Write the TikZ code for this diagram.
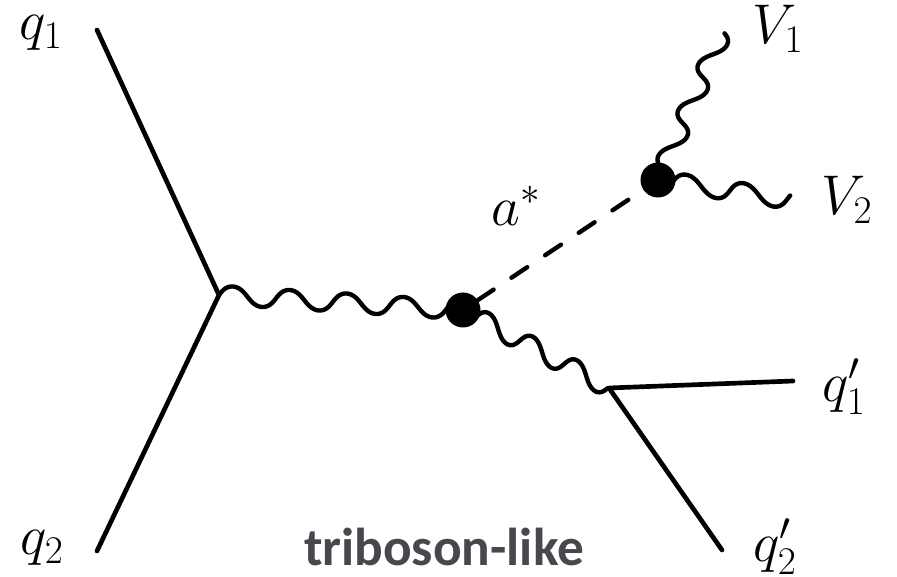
\RequirePackage{fix-cm}
\documentclass[tikz,border=0pt]{standalone}
\usepackage{fontspec}
\setsansfont{Carlito}
\usetikzlibrary{decorations}
\def\bwP{40}\def\bwS{10}\def\bwL{1.9}\def\bwA{7}
\pgfdeclaredecoration{bwave}{s}{
 \state{s}[switch if less than=1pt to final,width=1pt]{
  \pgfmathsetmacro\bwT{(\pgfdecoratedcompleteddistance-\bwS)/\bwP*360}
  \pgfmathsetmacro\bwY{\bwA*sin(\bwT)}
  \pgfmathsetmacro\bwX{-0.015*\bwP*sin(2*\bwT)-\bwL*sin(\bwT)}
  \pgfpathlineto{\pgfpoint{\bwX pt}{\bwY pt}}
 }
 \state{final}{}
}
\tikzset{
 fermion/.style={line width=3.5pt,line cap=round,line join=round},
 boson/.style args={#1/#2/#3}{line width=3.3pt,line cap=round,line join=round,decorate,decoration=bwave,
   /utils/exec={\def\bwP{#1}\def\bwS{#2}\def\bwL{#3}}},
 scalar/.style={line width=3.3pt,line cap=round,dash pattern=on 14.25pt off 16.1pt},
 blob/.style={circle,fill=black,minimum size=26.25pt,inner sep=0pt},
 lab/.style={inner sep=0pt,font=\fontsize{42}{42}\selectfont},
}
\begin{document}
\begin{tikzpicture}[x=0.75pt,y=-0.75pt]
\useasboundingbox (0,0) rectangle (897,577);
\fill[white] (0,0) rectangle (897,577);
\coordinate (a1) at (97,30);
\coordinate (a2) at (97,551);
\coordinate (v) at (219,295);
\node[blob] (b1) at (463,310) {};
\node[blob] (b2) at (658,180) {};
\coordinate (w) at (609,388);
\coordinate (o1) at (793,381);
\coordinate (o2) at (722,550);
\coordinate (o3) at (723,31);
\coordinate (o4) at (793,200);
\draw[fermion] (a1) -- (v) -- (a2);
\draw[fermion] (o1) -- (w) -- (o2);
\draw[boson=42.75/0/0.75] (v) -- (b1.center);
\draw[boson=37.5/11/2.2] (b1.center) -- (w);
\draw[boson=37.5/9/1.9] (b2.center) -- (o3);
\draw[boson=43.5/11/1.7] (b2.center) -- (o4);
\draw[scalar] (b1) -- (b2);
\node[lab] (t1) at (41,33) {$q_1$};
\node[lab] (t2) at (42,548) {$q_2$};
\node[lab] (t3) at (778,29) {$V_1$};
\node[lab] (t4) at (847,200) {$V_2$};
\node[lab] (t5) at (516,206) {$a^*$};
\node[lab] (t6) at (844,387) {$q_1'$};
\node[lab] (t7) at (775,547) {$q_2'$};
\node[inner sep=0pt,font=\sffamily\bfseries\fontsize{40}{40}\selectfont,text={rgb,255:red,71;green,71;blue,77}] (t8) at (444,547) {triboson-like};
\end{tikzpicture}
\end{document}
